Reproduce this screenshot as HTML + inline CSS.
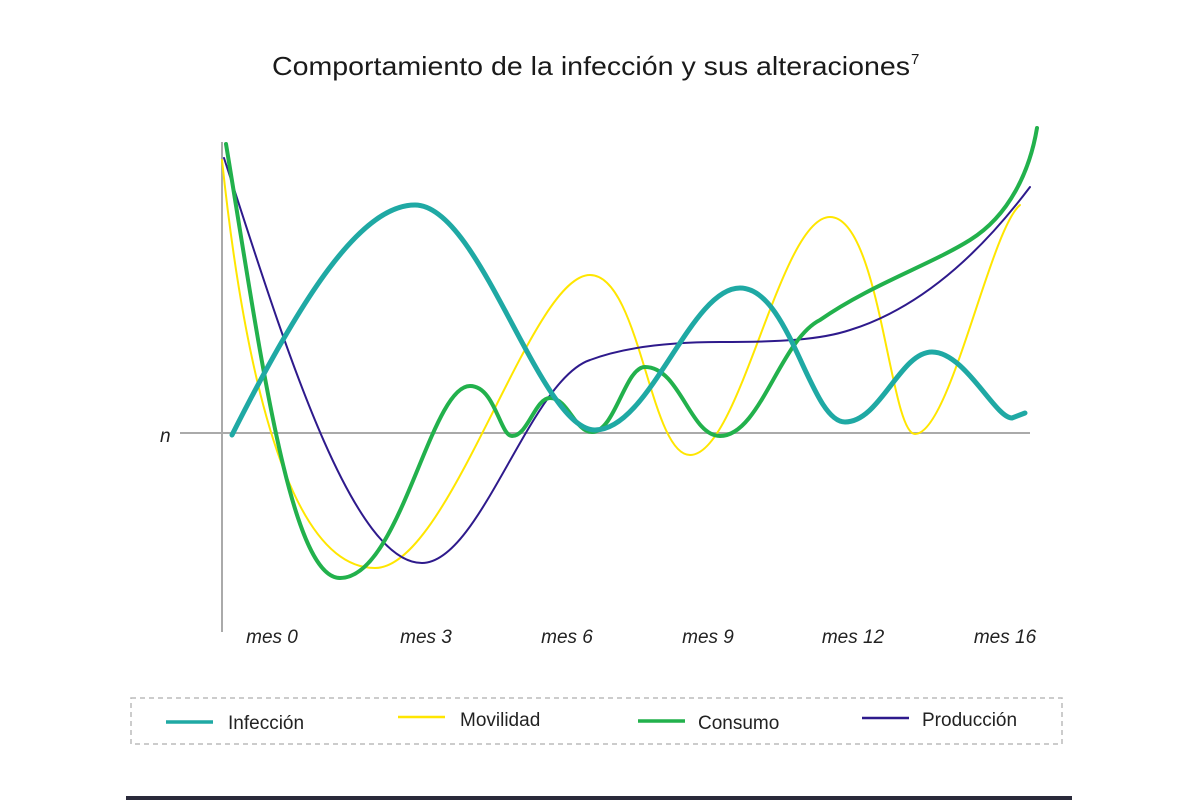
<!DOCTYPE html>
<html><head><meta charset="utf-8"><style>
body{margin:0;background:#fff;}
svg{display:block;font-family:"Liberation Sans",sans-serif;}
</style></head><body>
<svg width="1200" height="800" viewBox="0 0 1200 800">
<rect width="1200" height="800" fill="#fff"/>
<text x="272" y="75" font-size="26" fill="#1a1a1a" textLength="638" lengthAdjust="spacingAndGlyphs">Comportamiento de la infección y sus alteraciones</text>
<text x="911" y="64" font-size="15" fill="#1a1a1a">7</text>
<line x1="222" y1="142" x2="222" y2="632" stroke="#aaa" stroke-width="2"/>
<line x1="180" y1="433" x2="1030" y2="433" stroke="#aaa" stroke-width="2"/>
<text x="160" y="442" font-size="19" font-style="italic" fill="#222">n</text>
<g font-size="19" font-style="italic" fill="#222" text-anchor="middle">
<text x="272" y="643">mes 0</text><text x="426" y="643">mes 3</text><text x="567" y="643">mes 6</text>
<text x="708" y="643">mes 9</text><text x="853" y="643">mes 12</text><text x="1005" y="643">mes 16</text>
</g>
<g fill="none" stroke-linecap="round">
<path d="M222,160 C240,330 280,568 375,568 C450,568 530,275 590,275 C640,275 650,455 690,455 C740,455 780,217 830,217 C880,217 890,434 915,434 C950,434 990,230 1020,205" stroke="#ffe600" stroke-width="2"/>
<path d="M224,158 C280,330 350,563 422,563 C480,563 530,380 590,360 C630,345 680,342 720,342 C780,342 820,340 850,330 C930,305 990,240 1030,187" stroke="#2e1a8c" stroke-width="2"/>
<path d="M226,144 C260,350 290,578 340,578 C400,578 430,386 470,386 C495,386 500,436 512,436 C528,436 535,398 550,398 C568,398 575,432 592,432 C615,432 625,367 645,367 C680,367 690,436 720,436 C760,436 780,340 820,320 C870,285 930,265 970,240 C1010,215 1030,170 1037,128" stroke="#22b14c" stroke-width="4"/>
<path d="M232,435 C300,300 360,205 415,205 C480,205 540,430 595,430 C650,430 690,288 740,288 C790,288 810,422 845,422 C880,422 900,352 932,352 C965,352 995,418 1012,418 L1025,413" stroke="#1fa9a4" stroke-width="5"/>
</g>
<rect x="131" y="698" width="931" height="46" fill="none" stroke="#bbb" stroke-width="1.5" stroke-dasharray="5,4"/>
<g font-size="19" fill="#222">
<line x1="166" y1="722" x2="213" y2="722" stroke="#1fa9a4" stroke-width="3.5"/><text x="228" y="729">Infección</text>
<line x1="398" y1="717" x2="445" y2="717" stroke="#ffe600" stroke-width="2.5"/><text x="460" y="726">Movilidad</text>
<line x1="638" y1="721" x2="685" y2="721" stroke="#22b14c" stroke-width="3.5"/><text x="698" y="729">Consumo</text>
<line x1="862" y1="718" x2="909" y2="718" stroke="#2e1a8c" stroke-width="2.5"/><text x="922" y="726">Producción</text>
</g>
<rect x="126" y="796" width="946" height="4" fill="#2a2a3a"/>
</svg>
</body></html>
